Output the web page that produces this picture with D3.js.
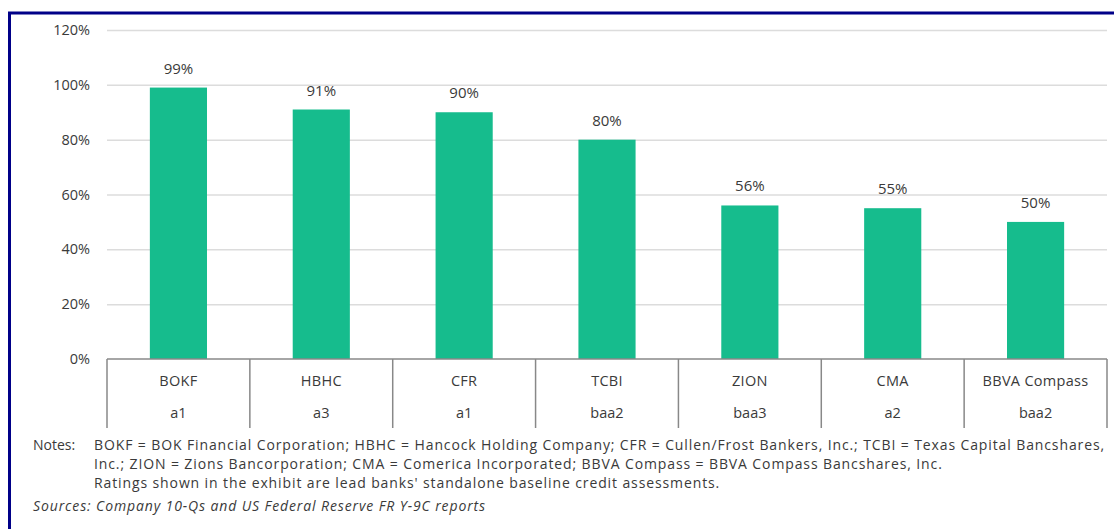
<!DOCTYPE html>
<html>
<head>
<meta charset="utf-8">
<script src="https://cdn.jsdelivr.net/npm/d3@7"></script>
<style>
  body { margin: 0; background: #fff; }
  text { font-family: "Open Sans", "Noto Sans", sans-serif; fill: #3a3a3a; }
</style>
</head>
<body>
<div id="chart"></div>
<script>
// data
var tickers = ["BOKF", "HBHC", "CFR", "TCBI", "ZION", "CMA", "BBVA Compass"];
var ratings = ["a1", "a3", "a1", "baa2", "baa3", "a2", "baa2"];
var shares = [0.99, 0.91, 0.90, 0.80, 0.56, 0.55, 0.50];
var yTicks = [0, 0.2, 0.4, 0.6, 0.8, 1.0, 1.2];
var notes = [
  "BOKF = BOK Financial Corporation; HBHC = Hancock Holding Company; CFR = Cullen/Frost Bankers, Inc.; TCBI = Texas Capital Bancshares,",
  "Inc.; ZION = Zions Bancorporation; CMA = Comerica Incorporated; BBVA Compass = BBVA Compass Bancshares, Inc.",
  "Ratings shown in the exhibit are lead banks' standalone baseline credit assessments."
];
var sources = "Sources: Company 10-Qs and US Federal Reserve FR Y-9C reports";

var W = 1114, H = 529;
var svg = d3.select("#chart").append("svg")
    .attr("width", W)
    .attr("height", H);

// frame
svg.append("rect")
    .attr("x", 9.5).attr("y", 13)
    .attr("width", W + 20).attr("height", H + 20)
    .attr("fill", "none")
    .attr("stroke", "#000088")
    .attr("stroke-width", 3);

var x = d3.scaleBand()
    .domain(tickers)
    .range([107, 1107])
    .paddingInner(0.6)
    .paddingOuter(0.3);

var y = d3.scaleLinear()
    .domain([0, 1.2])
    .range([359, 30]);

// gridlines + y labels
var yAxis = svg.append("g")
    .attr("transform", "translate(107,0)")
    .call(d3.axisLeft(y).tickValues(yTicks).tickFormat(d3.format(".0%")).tickSize(-1000).tickPadding(17));
yAxis.select(".domain").remove();
yAxis.selectAll(".tick line")
    .attr("stroke", function(d) { return d === 0 ? "none" : "#dcdcdc"; })
    .attr("stroke-width", 1.5);
yAxis.selectAll(".tick text")
    .attr("font-size", 14.5)
    .attr("font-family", "'Open Sans', sans-serif")
    .style("fill", "#3a3a3a");

// bars
svg.selectAll(".bar")
    .data(shares)
    .enter().append("rect")
    .attr("class", "bar")
    .attr("x", function(d, i) { return x(tickers[i]); })
    .attr("y", function(d) { return y(d); })
    .attr("width", x.bandwidth())
    .attr("height", function(d) { return y(0) - y(d); })
    .attr("fill", "#16bc8d");

svg.selectAll(".val")
    .data(shares)
    .enter().append("text")
    .attr("class", "val")
    .attr("x", function(d, i) { return x(tickers[i]) + x.bandwidth() / 2; })
    .attr("y", function(d) { return y(d) - 14; })
    .attr("text-anchor", "middle")
    .attr("font-size", 15)
    .text(function(d) { return Math.round(d * 100) + "%"; });

// category table under the axis
var step = x.step();
var x0 = x.range()[0];
var tableBottom = 428;
svg.append("line")
    .attr("x1", x0).attr("x2", x.range()[1])
    .attr("y1", y(0)).attr("y2", y(0))
    .attr("stroke", "#888").attr("stroke-width", 1.5);
svg.selectAll(".div")
    .data(d3.range(tickers.length + 1))
    .enter().append("line")
    .attr("class", "div")
    .attr("x1", function(i) { return x0 + i * step; })
    .attr("x2", function(i) { return x0 + i * step; })
    .attr("y1", y(0)).attr("y2", tableBottom)
    .attr("stroke", "#888").attr("stroke-width", 1.5);

svg.selectAll(".cat")
    .data(tickers)
    .enter().append("text")
    .attr("class", "cat")
    .attr("x", function(d) { return x(d) + x.bandwidth() / 2; })
    .attr("y", 386)
    .attr("text-anchor", "middle")
    .attr("font-size", 14.5)
    .attr("letter-spacing", 0.3)
    .text(function(d) { return d; });

svg.selectAll(".rat")
    .data(ratings)
    .enter().append("text")
    .attr("class", "rat")
    .attr("x", function(d, i) { return x(tickers[i]) + x.bandwidth() / 2; })
    .attr("y", 418)
    .attr("text-anchor", "middle")
    .attr("font-size", 14.5)
    .text(function(d) { return d; });

// notes
var fs = 14;
svg.append("text")
    .attr("x", 33).attr("y", 450)
    .attr("font-size", fs)
    .text("Notes:");

var noteLines = svg.selectAll(".note")
    .data(notes)
    .enter().append("text")
    .attr("class", "note")
    .attr("x", 94)
    .attr("y", function(d, i) { return 450 + i * 19; })
    .attr("font-size", fs)
    .text(function(d) { return d; });

// stretch line one a touch so it ends where it does in the picture
var first = noteLines.node();
var spread = ((1105 - 94) - first.getComputedTextLength()) / notes[0].length;
noteLines.attr("letter-spacing", spread);

svg.append("text")
    .attr("x", 33).attr("y", 511)
    .attr("font-size", fs)
    .attr("font-style", "italic")
    .attr("letter-spacing", spread)
    .text(sources);
</script>
</body>
</html>
